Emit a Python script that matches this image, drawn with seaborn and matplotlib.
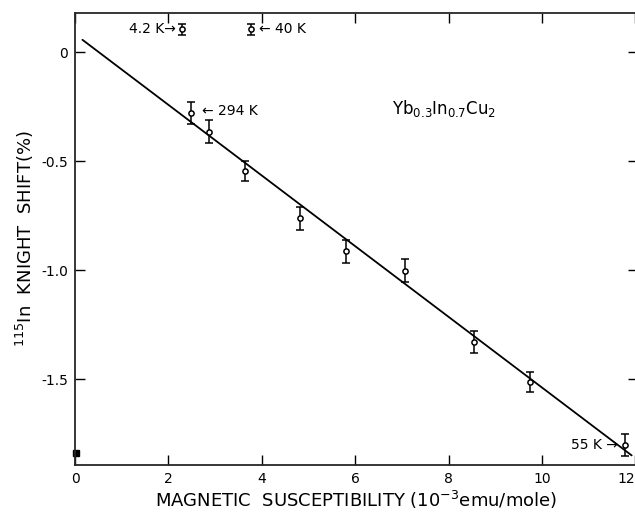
import pandas as pd
import seaborn as sns
import matplotlib.pyplot as plt

# valeurs
susceptibility = [2.48, 2.88, 3.63, 4.81, 5.81, 7.06, 8.55, 9.74, 11.78]
knight_shift = [-0.281, -0.366, -0.546, -0.763, -0.913, -1.003, -1.329, -1.512, -1.803]
shift_err = [0.05, 0.053, 0.047, 0.053, 0.053, 0.052, 0.05, 0.045, 0.05]

# points hors droite (4.2 K et 40 K)
off_x = [2.30, 3.76]
off_y = [0.105, 0.105]
off_err = [0.025, 0.025]

# droite tracée
fit_x = [0.16, 11.92]
fit_y = [0.056, -1.85]

x_ticks = [0, 2, 4, 6, 8, 10, 12]
x_ticklabels = ["0", "2", "4", "6", "8", "10", "12"]
y_ticks = [0, -0.5, -1.0, -1.5]
y_ticklabels = ["0", "-0.5", "-1.0", "-1.5"]

df = pd.DataFrame({"chi": susceptibility, "K": knight_shift, "err": shift_err})
df_off = pd.DataFrame({"chi": off_x, "K": off_y, "err": off_err})

sns.set_style("ticks")
plt.rcParams["font.family"] = ["DejaVu Sans"]
plt.rcParams["text.color"] = "black"

fig = plt.figure(figsize=(6.35, 5.12), dpi=100)
ax = fig.add_axes([75 / 635, 47 / 512, 12.05 * 46.7 / 635, 452 / 512])

sns.lineplot(x=fit_x, y=fit_y, ax=ax, color="black", lw=1.3)

for d in (df, df_off):
    ax.errorbar(d["chi"], d["K"], yerr=d["err"], fmt="none", ecolor="black",
                elinewidth=1.1, capsize=3, capthick=1.1)
    sns.scatterplot(data=d, x="chi", y="K", ax=ax, marker="o", s=14,
                    facecolor="white", edgecolor="black", linewidth=1.1, zorder=5)

# petit carré sur l'axe
ax.plot([0.02], [-1.84], marker="s", ms=4, color="black", clip_on=False)

ax.set_xlim(0, 12.05)
ax.set_ylim(-1.894, 0.179)
ax.set_xticks(x_ticks)
ax.set_xticklabels(x_ticklabels)
ax.get_xticklabels()[-1].set_horizontalalignment("right")
ax.set_yticks(y_ticks)
ax.set_yticklabels(y_ticklabels)
ax.tick_params(direction="in", length=7, width=1, labelsize=10,
               top=True, right=True, pad=5, colors="black")
ax.spines["right"].set_visible(False)
for s in ax.spines.values():
    s.set_linewidth(1.3)

ax.set_xlabel("MAGNETIC  SUSCEPTIBILITY (10$^{-3}$emu/mole)", fontsize=13,
              labelpad=2, color="black")
ax.set_ylabel("$^{115}$In  KNIGHT  SHIFT(%)", fontsize=13, labelpad=4, color="black")

ax.text(2.17, 0.105, "4.2 K\u2192", fontsize=10, ha="right", va="center")
ax.text(3.93, 0.105, "\u2190 40 K", fontsize=10, ha="left", va="center")
ax.text(2.72, -0.27, "\u2190 294 K", fontsize=10, ha="left", va="center")
ax.text(11.62, -1.803, "55 K \u2192", fontsize=10, ha="right", va="center")
ax.text(7.9, -0.26, "Yb$_{0.3}$In$_{0.7}$Cu$_2$", fontsize=12, ha="center", va="center")

fig.savefig("out.png", dpi=100)
